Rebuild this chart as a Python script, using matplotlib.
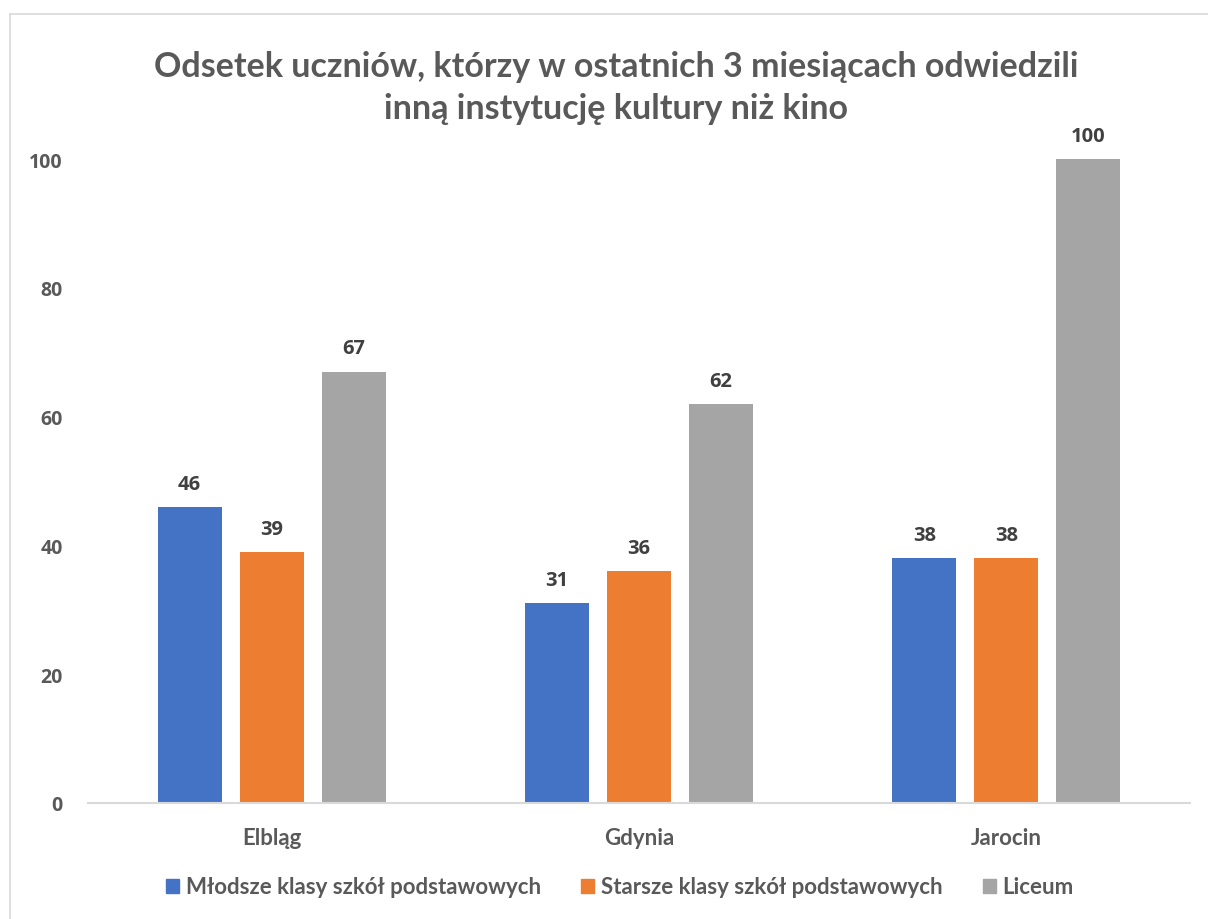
import matplotlib
matplotlib.use("Agg")
import matplotlib.pyplot as plt
import numpy as np
from matplotlib.patches import Rectangle
from matplotlib.lines import Line2D

categories = ["Elbląg", "Gdynia", "Jarocin"]
series_names = ["Młodsze klasy szkół podstawowych", "Starsze klasy szkół podstawowych", "Liceum"]
mlodsze = [46, 31, 38]
starsze = [39, 36, 38]
liceum = [67, 62, 100]
colors = ["#4472C4", "#ED7D31", "#A5A5A5"]
yticks = [0, 20, 40, 60, 80, 100]
title = "Odsetek uczniów, którzy w ostatnich 3 miesiącach odwiedzili\ninną instytucję kultury niż kino"

W, H = 1208, 920
fig = plt.figure(figsize=(W / 100, H / 100), dpi=100)
txt = "#595959"

# chart frame (partially visible)
fig.add_artist(Line2D([10 / W, 10 / W], [0, 1 - 15 / H], color="#D9D9D9", lw=1.2))
fig.add_artist(Line2D([10 / W, 1], [1 - 15 / H, 1 - 15 / H], color="#D9D9D9", lw=1.2))

ax = fig.add_axes([88 / W, 1 - 804 / H, (1190 - 88) / W, (804 - 160) / H])
x = np.arange(len(categories))
bw = 64 / 367
step = 82 / 367
for i, (vals, c) in enumerate(zip([mlodsze, starsze, liceum], colors)):
    pos = x + (i - 1) * step
    ax.bar(pos, vals, width=bw, color=c, label=series_names[i], zorder=2)
    for p, v in zip(pos, vals):
        ax.text(p, v + 2.8, str(v), ha="center", va="baseline", fontsize=14.5,
                fontweight="bold", color="#404040", family="Open Sans")

ax.set_xlim(-0.5, len(categories) - 0.5)
ax.set_ylim(0, 100)
ax.set_yticks(yticks)
ax.set_yticklabels([str(t) for t in yticks], fontsize=14, fontweight="bold",
                   color=txt, family="Open Sans")
ax.set_xticks(x)
ax.set_xticklabels(categories, fontsize=16, fontweight="bold", color=txt, family="Lato")
ax.tick_params(axis="y", length=0, pad=18)
ax.tick_params(axis="x", length=0, pad=17)
for s in ["top", "right", "left"]:
    ax.spines[s].set_visible(False)
ax.spines["bottom"].set_color("#D9D9D9")
ax.spines["bottom"].set_linewidth(1.5)

fig.text(616 / W, 1 - 88 / H, title, ha="center", va="center", fontsize=24.5,
         fontweight="bold", color=txt, family="Lato", linespacing=1.35)

handles = [Rectangle((0, 0), 1, 1, color=c) for c in colors]
leg = fig.legend(handles, series_names, loc="center", bbox_to_anchor=(620 / W, 1 - 888 / H),
                 ncol=3, frameon=False, handlelength=0.6, handleheight=0.6, handletextpad=0.3,
                 columnspacing=1.8, prop={"family": "Lato", "weight": "bold", "size": 16})
for t in leg.get_texts():
    t.set_color(txt)

fig.savefig("out.png", dpi=100, facecolor="white")
